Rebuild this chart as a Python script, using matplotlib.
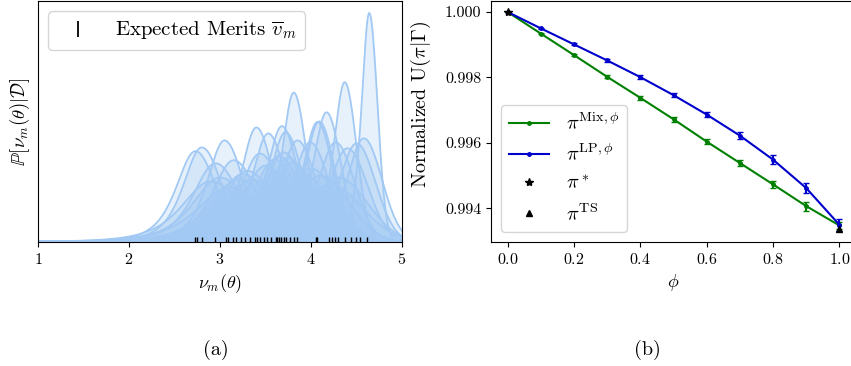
import numpy as np
import matplotlib
matplotlib.use("Agg")
import matplotlib.pyplot as plt
from matplotlib.lines import Line2D
from matplotlib.ticker import FormatStrFormatter

plt.rcParams["font.family"] = "serif"
plt.rcParams["font.serif"] = ["cmr10"]
plt.rcParams["mathtext.fontset"] = "cm"
plt.rcParams["axes.unicode_minus"] = False
plt.rcParams["axes.formatter.use_mathtext"] = True

# (a) posterior merit distributions: mode and width of each curve
modes = [2.73, 2.80, 2.95, 3.05, 3.15, 3.25, 3.40, 3.44, 3.53, 3.68, 3.72, 3.81,
         3.85, 3.99, 4.07, 4.09, 4.17, 4.27, 4.37, 4.40, 4.50, 4.58, 4.64,
         2.90, 3.00, 3.10, 3.20, 3.30, 3.35, 3.50, 3.60, 3.65, 3.70, 3.75,
         3.80, 3.90, 4.00, 4.10, 4.20, 4.30]
widths = [0.227, 0.218, 0.262, 0.203, 0.252, 0.304, 0.180, 0.233, 0.190, 0.178,
          0.188, 0.138, 0.203, 0.207, 0.172, 0.171, 0.159, 0.207, 0.129, 0.220,
          0.209, 0.199, 0.090,
          0.34, 0.32, 0.38, 0.33, 0.29, 0.33, 0.27, 0.25, 0.24, 0.23, 0.245,
          0.26, 0.30, 0.28, 0.31, 0.36, 0.32]
# expected merits (rug)
merits = [2.73, 2.75, 2.80, 2.95, 3.07, 3.09, 3.14, 3.18, 3.23, 3.28, 3.33, 3.38,
          3.41, 3.44, 3.48, 3.52, 3.56, 3.61, 3.63, 3.65, 3.67, 3.70, 3.73, 3.77,
          3.81, 3.85, 4.055, 4.07, 4.20, 4.23, 4.26, 4.30, 4.37, 4.44, 4.50,
          4.54, 4.61]

# (b) normalized utility vs phi
phi = [0.0, 0.1, 0.2, 0.3, 0.4, 0.5, 0.6, 0.7, 0.8, 0.9, 1.0]
u_mix = [1.0, 0.99934, 0.998684, 0.99802, 0.997378, 0.996724, 0.996041,
         0.995388, 0.994735, 0.994071, 0.99348]
err_mix = [0.0, 0.00002, 0.000036, 0.000046, 0.000061, 0.000071, 0.000082,
           0.000092, 0.000112, 0.000138, 0.0001]
u_lp = [1.0, 0.9995, 0.99901, 0.99852, 0.99801, 0.99746, 0.996867, 0.996224,
        0.99549, 0.994622, 0.9935]
err_lp = [0.0, 0.00002, 0.00003, 0.00004, 0.000066, 0.000066, 0.000087,
          0.000112, 0.000138, 0.000148, 0.00019]
u_star = 1.0
u_ts = 0.99338

fig = plt.figure(figsize=(8.51, 3.66), dpi=100)
ax1 = fig.add_axes([38 / 851, 124 / 366, 364 / 851, 241 / 366])
ax2 = fig.add_axes([491 / 851, 124 / 366, 365 / 851, 241 / 366])

# left panel
c = "#a1c9f4"
x = np.linspace(1, 5, 500)
top = 0
for m, w in zip(modes, widths):
    z = (x - m) / w
    f = np.where(z < 0, (1 + z ** 2 / 3) ** -2, np.exp(-z ** 2 / 2))
    pdf = f / (2.613 * w)
    top = max(top, pdf.max())
    ax1.fill_between(x, pdf, color=c, alpha=0.25, lw=0)
    ax1.plot(x, pdf, color=c, lw=1.3)
ax1.vlines(merits, 0, 0.022, transform=ax1.get_xaxis_transform(),
           color="black", lw=1, zorder=4)
ax1.set_xlim(1, 5)
ax1.set_ylim(0, top * 1.052)
ax1.set_yticks([])
ax1.set_xticks([1, 2, 3, 4, 5])
ax1.tick_params(labelsize=11.5)
ax1.set_xlabel(r"$\nu_m(\theta)$", fontsize=13)
ax1.set_ylabel(r"$\mathbb{P}[\nu_m(\theta)|\mathcal{D}]$", fontsize=13.5)
rug_handle = Line2D([], [], ls="none", marker="|", color="black", ms=11, mew=1.3)
ax1.legend([rug_handle], [r"Expected Merits $\overline{v}_m$"], loc="upper left",
           fontsize=15)

# right panel
green = "green"
blue = "#0000cc"
ax2.errorbar(phi, u_mix, yerr=err_mix, fmt=".-", color=green, ms=5, lw=1.5,
             capsize=2.5, elinewidth=1.5)
ax2.errorbar(phi, u_lp, yerr=err_lp, fmt=".-", color=blue, ms=5, lw=1.5,
             capsize=2.5, elinewidth=1.5)
ax2.plot([0.0], [u_star], ls="none", marker="*", color="black", ms=6, zorder=5)
ax2.plot([1.0], [u_ts], ls="none", marker="^", color="black", ms=5, zorder=5)
ax2.set_yticks([0.994, 0.996, 0.998, 1.000])
ax2.yaxis.set_major_formatter(FormatStrFormatter("%.3f"))
ax2.tick_params(labelsize=11.5)
ax2.set_xlabel(r"$\phi$", fontsize=13)
ax2.set_ylabel(r"Normalized U($\pi|\Gamma$)", fontsize=14.5)
ax2.yaxis.set_label_coords(-0.16, 0.57)

handles = [
    Line2D([], [], color=green, marker=".", ms=5, lw=1.5),
    Line2D([], [], color=blue, marker=".", ms=5, lw=1.5),
    Line2D([], [], ls="none", marker="*", color="black", ms=6),
    Line2D([], [], ls="none", marker="^", color="black", ms=5),
]
labels = [r"$\pi^{\mathrm{Mix},\phi}$", r"$\pi^{\mathrm{LP},\phi}$",
          r"$\pi^*$", r"$\pi^{\mathrm{TS}}$"]
ax2.legend(handles, labels, loc="lower left", fontsize=14.5)

fig.text(216 / 851, 16 / 366, "(a)", fontsize=14.5, ha="center", va="center")
fig.text(647 / 851, 16 / 366, "(b)", fontsize=14.5, ha="center", va="center")

fig.savefig("out.png", dpi=100)
